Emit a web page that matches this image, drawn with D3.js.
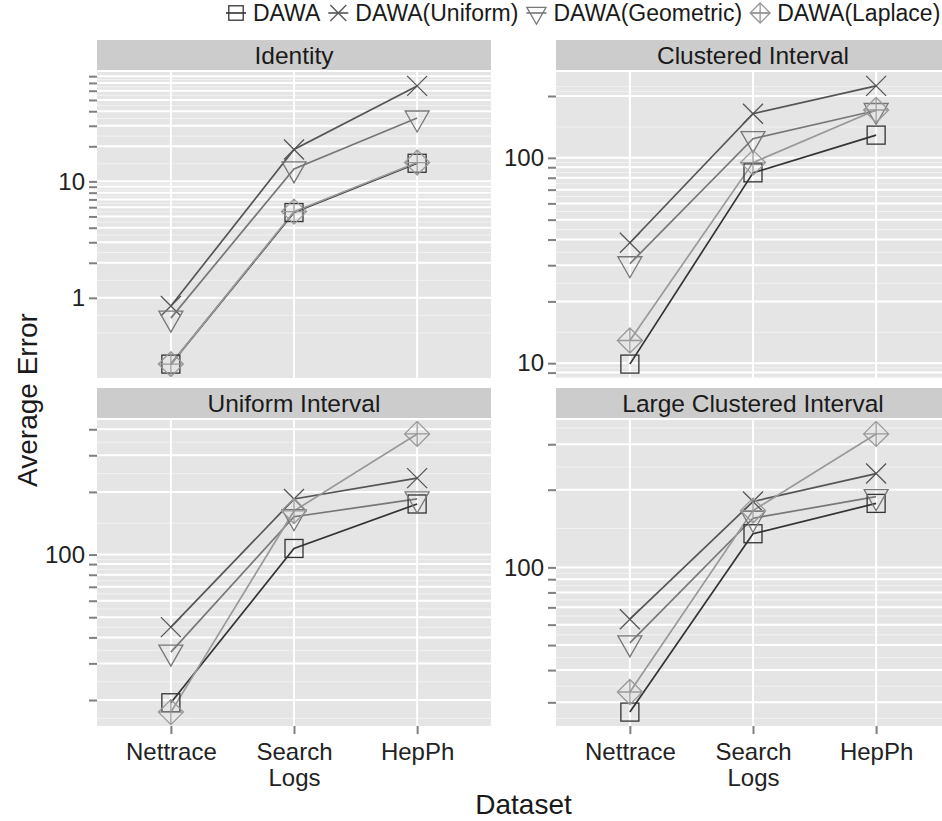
<!DOCTYPE html>
<html>
<head>
<meta charset="UTF-8">
<title>Average Error by Dataset</title>
<script src="https://cdnjs.cloudflare.com/ajax/libs/d3/7.8.5/d3.min.js"></script>
<style>
  body { margin: 0; background: #fff; }
  text { font-family: "Liberation Sans", Arial, Helvetica, sans-serif; }
</style>
</head>
<body>
<script>
// data
var datasets = ["Nettrace", "Search Logs", "HepPh"];
var panels = ["Identity", "Clustered Interval", "Uniform Interval", "Large Clustered Interval"];
var methods = ["DAWA", "DAWA(Uniform)", "DAWA(Geometric)", "DAWA(Laplace)"];

var identityErr = [
  [0.27, 5.4, 14.3],
  [0.85, 18.8, 66],
  [0.67, 12.8, 35],
  [0.27, 5.5, 14.5]
];
var clusteredErr = [
  [9.9, 84.5, 129],
  [38.6, 164, 224],
  [30.5, 124, 170],
  [12.9, 94.8, 171]
];
var uniformErr = [
  [19.4, 107, 175],
  [44.8, 185, 233],
  [34, 152, 185],
  [17.5, 162, 380]
];
var largeClusteredErr = [
  [27.5, 135, 177],
  [63, 180, 231],
  [51, 155, 188],
  [32.9, 166, 329]
];
var panelErr = [identityErr, clusteredErr, uniformErr, largeClusteredErr];

var majorTicks = [1,2,3,4,5,6,7,8,9,10,20,30,40,50,60,70,80,90,100,200,300,400,500,600,700,800,900];
var tickLabels = [1, 10, 100];

var W = 942, H = 821;
var colors = ["#333333", "#555555", "#777777", "#999999"];
var shapes = ["square", "cross", "tridown", "diamondplus"];

var svg = d3.select("body").append("svg")
  .attr("width", W).attr("height", H);

var colX = [97, 556], panelW = 394;
var rowStrip = [40, 388], stripH = 30, panelTopOff = 32, panelH = 306;

function drawShape(g, shape, cx, cy, col, k) {
  k = k || 1;
  var s = g.append("g").attr("transform", "translate(" + cx + "," + cy + ")")
    .attr("fill", "none").attr("stroke", col).attr("stroke-width", 1.3);
  if (shape == "square") {
    var h = 9 * k;
    s.append("rect").attr("x", -h).attr("y", -h).attr("width", 2*h).attr("height", 2*h);
  } else if (shape == "cross") {
    var c = 10 * k;
    s.append("path").attr("d", "M" + (-c) + "," + (-c) + "L" + c + "," + c + "M" + (-c) + "," + c + "L" + c + "," + (-c));
  } else if (shape == "tridown") {
    var r = 14 * k, xc = 12 * k;
    s.append("path").attr("d", "M" + (-xc) + "," + (-r/2) + "L" + xc + "," + (-r/2) + "L0," + r + "Z");
  } else {
    var d = 12.5 * k;
    s.append("path").attr("d", "M0," + (-d) + "L" + d + ",0L0," + d + "L" + (-d) + ",0Z M0," + (-d) + "L0," + d + "M" + (-d) + ",0L" + d + ",0");
  }
}

function minorBreaks(b, lim) {
  // ggplot-style regular minor breaks in log space
  var bd = b[1] - b[0];
  var bb = b.slice();
  if (lim[0] < bb[0]) bb.unshift(bb[0] - bd);
  if (lim[1] > bb[bb.length-1]) bb.push(bb[bb.length-1] + bd);
  var out = [];
  for (var i = 0; i < bb.length - 1; i++) {
    out.push(bb[i]); out.push((bb[i] + bb[i+1]) / 2);
  }
  out.push(bb[bb.length-1]);
  return out;
}

panels.forEach(function(name, p) {
  var col = p % 2, row = Math.floor(p / 2);
  var x0 = colX[col], sTop = rowStrip[row], pTop = sTop + panelTopOff, pBot = pTop + panelH;
  var vals = panelErr[p];

  var all = [].concat.apply([], vals).map(function(v){ return Math.log10(v); });
  var lmin = d3.min(all), lmax = d3.max(all), ex = (lmax - lmin) * 0.05;
  var lim = [lmin - ex, lmax + ex];

  var x = d3.scalePoint().domain(datasets).range([x0, x0 + panelW]).padding(0.6);
  var y = d3.scaleLog().domain([Math.pow(10, lim[0]), Math.pow(10, lim[1])]).range([pBot, pTop]);

  var g = svg.append("g");
  g.append("rect").attr("x", x0).attr("y", sTop).attr("width", panelW).attr("height", stripH).attr("fill", "#cccccc");
  g.append("text").attr("x", x0 + panelW/2).attr("y", sTop + stripH/2).attr("dy", "0.36em")
    .attr("text-anchor", "middle").attr("font-size", 24.5).attr("fill", "#1a1a1a").text(name);

  g.append("rect").attr("x", x0).attr("y", pTop).attr("width", panelW).attr("height", panelH).attr("fill", "#e5e5e5");

  var clipId = "clip" + p;
  svg.append("clipPath").attr("id", clipId).append("rect")
    .attr("x", x0).attr("y", pTop).attr("width", panelW).attr("height", panelH);
  var pg = g.append("g").attr("clip-path", "url(#" + clipId + ")");

  var major = majorTicks.filter(function(t){ var l = Math.log10(t); return l >= lim[0] && l <= lim[1]; });
  var minor = minorBreaks(major.map(function(t){ return Math.log10(t); }), lim);

  pg.selectAll("line.minor").data(minor).enter().append("line")
    .attr("x1", x0).attr("x2", x0 + panelW)
    .attr("y1", function(d){ return y(Math.pow(10, d)); }).attr("y2", function(d){ return y(Math.pow(10, d)); })
    .attr("stroke", "#f2f2f2").attr("stroke-width", 1);
  pg.selectAll("line.major").data(major).enter().append("line")
    .attr("x1", x0).attr("x2", x0 + panelW)
    .attr("y1", function(d){ return y(d); }).attr("y2", function(d){ return y(d); })
    .attr("stroke", "#ffffff").attr("stroke-width", 2);
  pg.selectAll("line.vert").data(datasets).enter().append("line")
    .attr("x1", function(d){ return x(d); }).attr("x2", function(d){ return x(d); })
    .attr("y1", pTop).attr("y2", pBot)
    .attr("stroke", "#ffffff").attr("stroke-width", 2);

  // y axis
  var yAxis = d3.axisLeft(y).tickValues(major).tickSize(8).tickPadding(4)
    .tickFormat(function(d){ return tickLabels.indexOf(d) >= 0 ? d : ""; });
  var ya = svg.append("g").attr("transform", "translate(" + x0 + ",0)").call(yAxis);
  ya.select(".domain").remove();
  ya.selectAll(".tick line").attr("stroke", "#7f7f7f").attr("stroke-width", 2);
  ya.selectAll(".tick text").attr("font-size", 24).attr("fill", "#222").attr("font-family", null);

  if (row == 1) {
    var xAxis = d3.axisBottom(x).tickSize(8).tickPadding(8).tickFormat("");
    var xa = svg.append("g").attr("transform", "translate(0," + pBot + ")").call(xAxis);
    xa.select(".domain").remove();
    xa.selectAll(".tick line").attr("stroke", "#7f7f7f").attr("stroke-width", 2);
    xa.selectAll(".tick").each(function(d){
      var t = d3.select(this).append("text").attr("fill", "#222").attr("font-size", 24)
        .attr("text-anchor", "middle").attr("y", 34);
      d.split(" ").forEach(function(w, i){
        t.append("tspan").attr("x", 0).attr("dy", i ? 26 : 0).text(w);
      });
    });
  }

  var line = d3.line().x(function(d, i){ return x(datasets[i]); }).y(function(d){ return y(d); });
  vals.forEach(function(v, m){
    pg.append("path").datum(v).attr("d", line).attr("fill", "none")
      .attr("stroke", colors[m]).attr("stroke-width", 1.7);
  });
  vals.forEach(function(v, m){
    v.forEach(function(d, i){ drawShape(pg, shapes[m], x(datasets[i]), y(d), colors[m]); });
  });
});

// axis titles
svg.append("text").attr("x", (colX[0] + colX[1] + panelW) / 2).attr("y", 814)
  .attr("text-anchor", "middle").attr("font-size", 28).attr("fill", "#1a1a1a").text("Dataset");
svg.append("text").attr("transform", "translate(37,400) rotate(-90)")
  .attr("text-anchor", "middle").attr("font-size", 28).attr("fill", "#1a1a1a").text("Average Error");

// legend
var lg = svg.append("g").attr("transform", "translate(226,13)");
var lx = 0;
methods.forEach(function(name, m){
  var it = lg.append("g").attr("transform", "translate(" + lx + ",0)");
  it.append("line").attr("x1", 0).attr("x2", 20).attr("y1", 0).attr("y2", 0)
    .attr("stroke", colors[m]).attr("stroke-width", 1.6);
  drawShape(it, shapes[m], 10, 0, colors[m], 0.8);
  var t = it.append("text").attr("x", 27).attr("dy", "0.36em").attr("font-size", 23)
    .attr("fill", "#1a1a1a").text(name);
  lx += 27 + t.node().getComputedTextLength() + 8;
});
</script>
</body>
</html>
